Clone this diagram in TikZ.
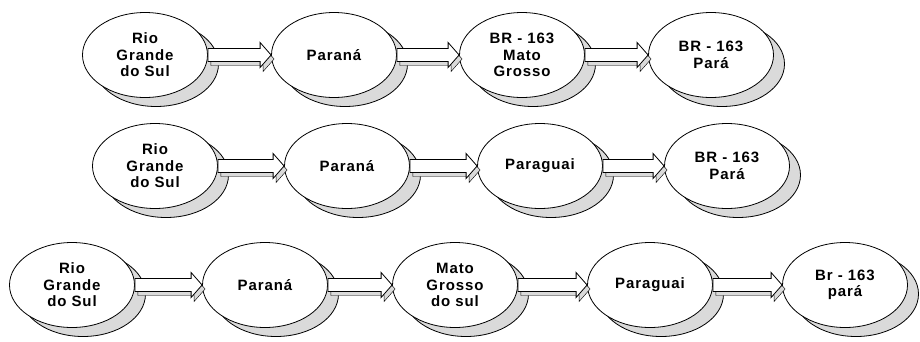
\documentclass[tikz,border=0pt]{standalone}
\usepackage{fontspec}
\newfontfamily\stationfont[LetterSpace=6]{Liberation Sans}
\usetikzlibrary{shapes.geometric}
\usetikzlibrary{calc}
\definecolor{shadowgray}{RGB}{218,218,218}

\tikzset{
  station/.style={ellipse, draw, fill=white, line width=0.8pt,
    minimum width=125pt, minimum height=85pt, inner sep=0pt, align=center,
    font=\stationfont\bfseries\fontsize{15}{16.5}\selectfont,
    preaction={draw, fill=shadowgray, transform canvas={shift={(11pt,-9pt)}}}},
  blockarrow/.style={draw, fill=white, line width=0.8pt,
    preaction={draw, fill=shadowgray, transform canvas={shift={(3pt,-4pt)}}},
    to path={let \p1=(\tikztostart), \p2=(\tikztotarget) in
      (\x1,\y1+6.5pt) -- (\x2-11pt,\y1+6.5pt) -- (\x2-11pt,\y1+12.5pt) -- (\x2,\y1)
      -- (\x2-11pt,\y1-12.5pt) -- (\x2-11pt,\y1-6.5pt) -- (\x1,\y1-6.5pt) -- cycle}}
}

\begin{document}
\begin{tikzpicture}[x=1pt, y=-1pt]
      \useasboundingbox (0,0) rectangle (920,341);

      % first route
      \node[station] (rsA) at (145,55) {Rio\\Grande\\do Sul};
      \node[station] (prA) at (334,55) {Paraná};
      \node[station] (mtA) at (522,55) {BR - 163\\Mato\\Grosso};
      \node[station] (paA) at (711,55) {BR - 163\\Pará};

      % second route
      \node[station] (rsB) at (155,166) {Rio\\Grande\\do Sul};
      \node[station] (prB) at (347,166) {Paraná};
      \node[station] (pyB) at (540,166) {Paraguai};
      \node[station] (paB) at (727,166) {BR - 163\\Pará};

      % third route
      \node[station] (rsC) at (72,285) {Rio\\Grande\\do Sul};
      \node[station] (prC) at (265,285) {Paraná};
      \node[station] (msC) at (455,285) {Mato\\Grosso\\do sul};
      \node[station] (pyC) at (650,285) {Paraguai};
      \node[station] (paC) at (845,285) {Br - 163\\pará};

      \draw[blockarrow] (rsA.east) to (prA.west);
      \draw[blockarrow] (prA.east) to (mtA.west);
      \draw[blockarrow] (mtA.east) to (paA.west);

      \draw[blockarrow] (rsB.east) to (prB.west);
      \draw[blockarrow] (prB.east) to (pyB.west);
      \draw[blockarrow] (pyB.east) to (paB.west);

      \draw[blockarrow] (rsC.east) to (prC.west);
      \draw[blockarrow] (prC.east) to (msC.west);
      \draw[blockarrow] (msC.east) to (pyC.west);
      \draw[blockarrow] (pyC.east) to (paC.west);
\end{tikzpicture}
\end{document}
